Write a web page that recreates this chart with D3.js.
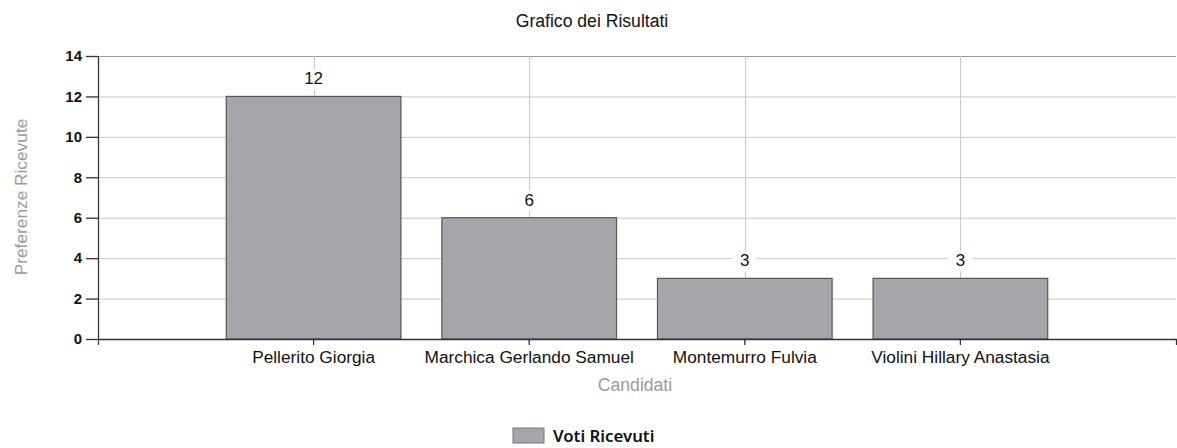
<!DOCTYPE html>
<html><head><meta charset="utf-8">
<script src="https://cdn.jsdelivr.net/npm/d3@7"></script>
<style>body{margin:0;background:#fff}svg{display:block}</style>
</head><body>
<script>
const categories = ["Pellerito Giorgia", "Marchica Gerlando Samuel", "Montemurro Fulvia", "Violini Hillary Anastasia"];
const values = [12, 6, 3, 3];
const yTicks = [0, 2, 4, 6, 8, 10, 12, 14];
const seriesName = "Voti Ricevuti";
const title = "Grafico dei Risultati";
const xTitle = "Candidati";
const yTitle = "Preferenze Ricevute";

const W = 1177, H = 448;
const mLeft = 98, mRight = 1176, mTop = 56, mBottom = 339;
const font = "'Liberation Sans', Arial, sans-serif";

const svg = d3.select("body").append("svg").attr("width", W).attr("height", H);

const x = d3.scaleBand().domain(categories).range([mLeft, mRight]).paddingInner(0.19).paddingOuter(0.595);
const y = d3.scaleLinear().domain([0, 14]).range([mBottom, mTop]);

// horizontal grid
svg.append("g").selectAll("line").data(yTicks.filter(d => d > 0)).join("line")
  .attr("x1", mLeft).attr("x2", mRight)
  .attr("y1", d => y(d) + 0.5).attr("y2", d => y(d) + 0.5)
  .attr("stroke", d => d === 14 ? "#999" : "#c8c8c8").attr("stroke-width", 1);
// vertical grid
svg.append("g").selectAll("line").data(categories).join("line")
  .attr("x1", d => Math.round(x(d) + x.bandwidth() / 2) + 0.5).attr("x2", d => Math.round(x(d) + x.bandwidth() / 2) + 0.5)
  .attr("y1", mTop).attr("y2", mBottom)
  .attr("stroke", "#c8c8c8").attr("stroke-width", 1);

// bars
svg.append("g").selectAll("rect").data(values).join("rect")
  .attr("x", (d, i) => x(categories[i]))
  .attr("width", x.bandwidth())
  .attr("y", d => y(d))
  .attr("height", d => y(0) - y(d))
  .attr("fill", "#a4a6ac").attr("stroke", "#555").attr("stroke-width", 1.2);

// value labels
const lab = svg.append("g").selectAll("g").data(values).join("g")
  .attr("transform", (d, i) => `translate(${x(categories[i]) + x.bandwidth() / 2},${y(d) - 12})`);
lab.append("rect").attr("x", -12).attr("y", -15).attr("width", 24).attr("height", 20).attr("fill", "#fff");
lab.append("text").attr("text-anchor", "middle").attr("font-family", font).attr("font-size", 17)
  .attr("fill", "#111").text(d => d);

// x axis
const xa = svg.append("g").attr("transform", `translate(0,${mBottom})`)
  .call(d3.axisBottom(x).tickSize(6).tickSizeOuter(6).tickPadding(6));
xa.selectAll("path,line").attr("stroke", "#333").attr("stroke-width", 1.3);
xa.selectAll("text").attr("font-family", font).attr("font-size", 17.3).attr("fill", "#111");

// y axis
const ya = svg.append("g").attr("transform", `translate(${mLeft},0)`)
  .call(d3.axisLeft(y).tickValues(yTicks).tickSize(12).tickSizeOuter(0).tickPadding(4));
ya.selectAll("path,line").attr("stroke", "#333").attr("stroke-width", 1.3);
ya.selectAll("text").attr("font-family", font).attr("font-size", 15).attr("font-weight", "bold").attr("fill", "#111");

// titles
svg.append("text").attr("x", 592).attr("y", 27).attr("text-anchor", "middle")
  .attr("font-family", font).attr("font-size", 17.6).attr("fill", "#111").text(title);
svg.append("text").attr("x", (mLeft + mRight) / 2 - 2).attr("y", 391).attr("text-anchor", "middle")
  .attr("font-family", font).attr("font-size", 17.6).attr("fill", "#9a9a9a").text(xTitle);
svg.append("text").attr("transform", `translate(27,197) rotate(-90)`).attr("text-anchor", "middle")
  .attr("font-family", font).attr("font-size", 17.3).attr("fill", "#9a9a9a").text(yTitle);

// legend
const lg = svg.append("g");
lg.append("rect").attr("x", 513).attr("y", 428).attr("width", 31).attr("height", 15)
  .attr("fill", "#a4a6ac").attr("stroke", "#777").attr("stroke-width", 1);
lg.append("text").attr("x", 553).attr("y", 442).attr("font-family", "'Noto Sans', 'DejaVu Sans', sans-serif")
  .attr("font-size", 16.8).attr("font-weight", 600).attr("fill", "#111").text(seriesName);
</script>
</body></html>
